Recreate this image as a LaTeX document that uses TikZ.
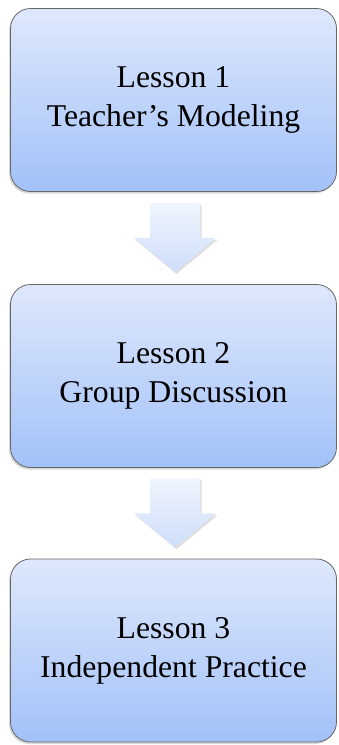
\documentclass[tikz,border=0pt]{standalone}
\usepackage{fontspec}
\setmainfont{Liberation Serif}
\usetikzlibrary{calc,shadows}
\definecolor{lessontop}{RGB}{222,232,252}
\definecolor{lessonbot}{RGB}{162,193,248}
\definecolor{arrowtop}{RGB}{240,245,254}
\definecolor{arrowbot}{RGB}{206,221,250}
\tikzset{lesson/.style={draw=black!60,line width=.8pt,rounded corners=20pt,
           top color=lessontop,bottom color=lessonbot,
           minimum width=326pt,minimum height=183pt,align=center,
           font=\fontsize{31.7}{39}\selectfont,
           drop shadow={opacity=.3,shadow xshift=-1.5pt,shadow yshift=-2pt}},
         blockarrow/.style={top color=arrowtop,bottom color=arrowbot,
           drop shadow={opacity=.25,shadow xshift=1.5pt,shadow yshift=-2pt}}}

\begin{document}
\begin{tikzpicture}[x=1pt,y=-1pt]
  \useasboundingbox (0,0) rectangle (338,745);
  \node[lesson] (l1) at (173.5,100) {Lesson 1\\Teacher's Modeling};
  \node[lesson] (l2) at (173.5,376) {Lesson 2\\Group Discussion};
  \node[lesson] (l3) at (173.5,650.5) {Lesson 3\\Independent Practice};
  % block arrows between the lessons
  \foreach \a/\b in {l1/l2,l2/l3}{
    \coordinate (m) at ($(\a.south)!.5!(\b.north)+(1.5,0)$);
    \path[blockarrow] ($(m)+(-25,-35)$) -- ($(m)+(25,-35)$) -- ($(m)+(25,0)$)
      -- ($(m)+(41,0)$) -- ($(m)+(0,34)$) -- ($(m)+(-41,0)$) -- ($(m)+(-25,0)$) -- cycle;
  }
\end{tikzpicture}
\end{document}
